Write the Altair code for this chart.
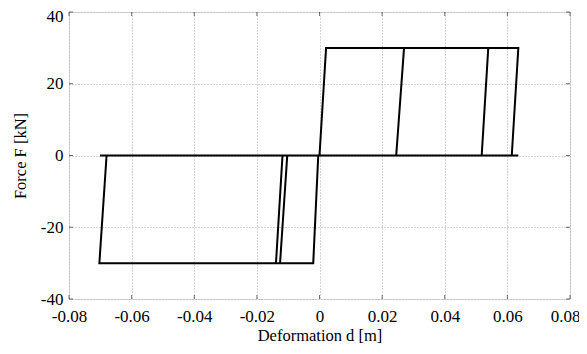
import altair as alt
import pandas as pd

# Hysteresis path (deformation d [m], force F [kN])
deformation = [0, 0.0021, 0.027, 0.0245, -0.0004, -0.002, -0.0126, -0.0103, 0.0245, 0.027,
               0.0539, 0.0518, -0.0103, -0.0126, -0.0139, -0.0119, -0.0118, 0.0518, 0.0539,
               0.0635, 0.0614, -0.0004, -0.002, -0.0703, -0.068, -0.0701, 0.0635]
force = [0, 30, 30, 0, 0, -30, -30, 0, 0, 30,
         30, 0, 0, -30, -30, -1.2, 0, 0, 30,
         30, 0, 0, -30, -30, 0, 0, 0]

x_ticks = [-0.08, -0.06, -0.04, -0.02, 0, 0.02, 0.04, 0.06, 0.08]
y_ticks = [-40, -20, 0, 20, 40]

df = pd.DataFrame({"d": deformation, "F": force, "i": list(range(len(force)))})
xt = pd.DataFrame({"v": x_ticks})
yt = pd.DataFrame({"v": y_ticks})

FONT = "Liberation Serif"
xscale = alt.Scale(domain=[-0.08, 0.08], nice=False, zero=False)
yscale = alt.Scale(domain=[-40, 40], nice=False, zero=False)

grid_common = dict(gridColor="#aaaaaa", gridDash=[1, 2], gridWidth=1, domain=False,
                   tickSize=0, labelFont=FONT, labelFontSize=17, labelColor="#000",
                   titleFont=FONT, titleFontSize=16.5, titleFontWeight="normal", titleColor="#000",
                   labelExpr="toString(datum.value)")

line = alt.Chart(df).mark_line(color="black", strokeWidth=2).encode(
    x=alt.X("d:Q", scale=xscale,
            axis=alt.Axis(values=x_ticks, title="Deformation d [m]", labelPadding=9,
                          titlePadding=3, labelFlush=False, labelOverlap=False,
                          labelOffset={"condition": {"test": "datum.value >= 0.079", "value": -5},
                                       "value": 0},
                          **grid_common)),
    y=alt.Y("F:Q", scale=yscale,
            axis=alt.Axis(values=y_ticks, title="Force F [kN]", labelPadding=6,
                          titlePadding=12, labelFlush=False, labelOverlap=False,
                          labelOffset={"condition": {"test": "datum.value >= 39", "value": 4},
                                       "value": 0},
                          **grid_common)),
    order="i:Q",
)

tick_style = dict(color="#333333", thickness=1, size=4)
tb = alt.Chart(xt).mark_tick(orient="vertical", **tick_style).encode(
    x=alt.X("v:Q", scale=xscale), y=alt.value(2))
bb = alt.Chart(xt).mark_tick(orient="vertical", **tick_style).encode(
    x=alt.X("v:Q", scale=xscale), y=alt.value(285))
lb = alt.Chart(yt).mark_tick(orient="horizontal", **tick_style).encode(
    y=alt.Y("v:Q", scale=yscale), x=alt.value(2))
rb = alt.Chart(yt).mark_tick(orient="horizontal", **tick_style).encode(
    y=alt.Y("v:Q", scale=yscale), x=alt.value(499))

chart = alt.layer(line, tb, bb, lb, rb).properties(
    width=501, height=287,
    autosize=alt.AutoSizeParams(type="none"),
    padding={"left": 61, "top": 4, "right": 9, "bottom": 47},
).configure_view(stroke="#333333", strokeWidth=1).configure(background="white")

chart.save("out.html", embed_options={"renderer": "svg", "actions": False})
